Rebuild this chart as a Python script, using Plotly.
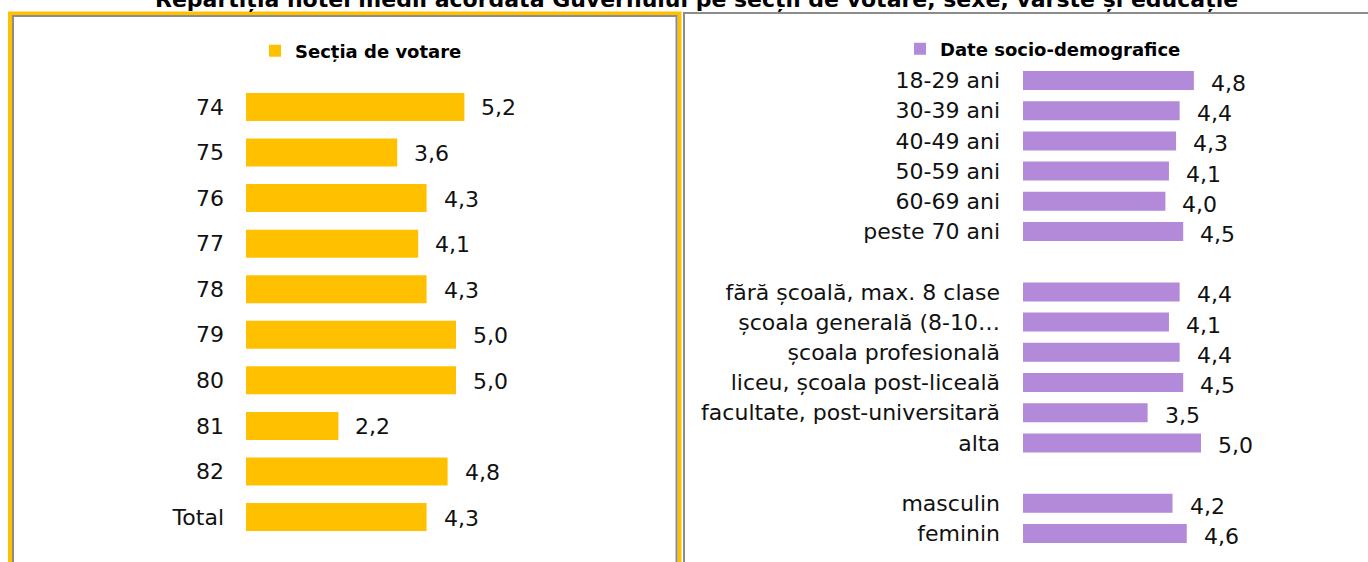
import plotly.graph_objects as go

# ---------------- data ----------------
title_text = "Repartiția notei medii acordată Guvernului pe secții de votare, sexe, vârste și educație"

sectii_labels = ["74", "75", "76", "77", "78", "79", "80", "81", "82", "Total"]
sectii_values = [5.2, 3.6, 4.3, 4.1, 4.3, 5.0, 5.0, 2.2, 4.8, 4.3]

socio_labels = ["18-29 ani", "30-39 ani", "40-49 ani", "50-59 ani", "60-69 ani", "peste 70 ani",
                " ",
                "fără școală, max. 8 clase", "școala generală (8-10…", "școala profesională",
                "liceu, școala post-liceală", "facultate, post-universitară", "alta",
                "  ",
                "masculin", "feminin"]
socio_values = [4.8, 4.4, 4.3, 4.1, 4.0, 4.5,
                None,
                4.4, 4.1, 4.4, 4.5, 3.5, 5.0,
                None,
                4.2, 4.6]

series_left = "Secția de votare"
series_right = "Date socio-demografice"

# ---------------- style ----------------
W, H = 1368, 562
YELLOW = "#FFC000"
PURPLE = "#B389D9"
FONT = "DejaVu Sans"
TXT = "#111111"


def px_x(p):
    return p / W


def px_y(p):
    return 1 - p / H


fig = go.Figure()

fig.add_trace(go.Bar(
    y=sectii_labels, x=sectii_values, orientation="h", name=series_left,
    marker=dict(color=YELLOW, line=dict(width=0)), width=0.615,
    xaxis="x", yaxis="y", legend="legend", hoverinfo="x+y",
))
fig.add_trace(go.Bar(
    y=socio_labels, x=socio_values, orientation="h", name=series_right,
    marker=dict(color=PURPLE, line=dict(width=0)), width=0.63,
    xaxis="x2", yaxis="y2", legend="legend2", hoverinfo="x+y",
))

annotations = []
for i, v in enumerate(sectii_values):
    annotations.append(dict(x=v, y=i, xref="x", yref="y", text=f"{v:.1f}".replace(".", ","),
                            showarrow=False, xanchor="left", yanchor="middle", xshift=15, yshift=-1,
                            font=dict(family=FONT, size=22, color=TXT)))
for i, v in enumerate(socio_values):
    if v is None:
        continue
    annotations.append(dict(x=v, y=i, xref="x2", yref="y2", text=f"{v:.1f}".replace(".", ","),
                            showarrow=False, xanchor="left", yanchor="middle", xshift=15, yshift=-3,
                            font=dict(family=FONT, size=22, color=TXT)))

# chart title: only its lower part shows at the very top of the picture
annotations.append(dict(x=px_x(696), y=px_y(0), xref="paper", yref="paper", text="<b>" + title_text + "</b>",
                        showarrow=False, xanchor="center", yanchor="middle",
                        font=dict(family=FONT, size=22, color="#000000")))

shapes = [
    # left panel: yellow outer frame, gray inner frame
    dict(type="rect", xref="paper", yref="paper", x0=px_x(10), x1=px_x(679.5), y0=px_y(13.5), y1=-0.1,
         line=dict(color=YELLOW, width=4), fillcolor="rgba(0,0,0,0)", layer="below"),
    dict(type="rect", xref="paper", yref="paper", x0=px_x(13), x1=px_x(676.5), y0=px_y(16), y1=-0.1,
         line=dict(color="#8C8C8C", width=2), fillcolor="rgba(0,0,0,0)", layer="below"),
    # right panel gray frame
    dict(type="rect", xref="paper", yref="paper", x0=px_x(684), x1=1.1, y0=px_y(13), y1=-0.1,
         line=dict(color="#8C8C8C", width=2), fillcolor="rgba(0,0,0,0)", layer="below"),
]

fig.update_layout(
    width=W, height=H, autosize=False,
    margin=dict(l=0, r=0, t=0, b=0),
    paper_bgcolor="white", plot_bgcolor="white",
    separators=",.",
    font=dict(family=FONT, size=22, color=TXT),
    showlegend=True,
    xaxis=dict(domain=[px_x(246), px_x(666)], range=[0, 10], showgrid=False, zeroline=False,
               showticklabels=False, showline=False, fixedrange=True),
    yaxis=dict(domain=[px_y(539.8), px_y(84.2)], type="category", categoryorder="array",
               categoryarray=sectii_labels, range=[len(sectii_labels) - 0.5, -0.5],
               showgrid=False, zeroline=False,
               showline=False, ticks="", ticklabelstandoff=21,
               tickfont=dict(family=FONT, size=22, color=TXT), fixedrange=True),
    xaxis2=dict(domain=[px_x(1023), 1], range=[0, (1368 - 1023) / 35.6], showgrid=False, zeroline=False,
                showticklabels=False, showline=False, anchor="y2", fixedrange=True),
    yaxis2=dict(domain=[px_y(548.6), px_y(65.4)], type="category", categoryorder="array",
                categoryarray=socio_labels, range=[len(socio_labels) - 0.5, -0.5],
                showgrid=False, zeroline=False,
                showline=False, ticks="", ticklabelstandoff=22, anchor="x2",
                tickfont=dict(family=FONT, size=22, color=TXT), fixedrange=True),
    legend=dict(x=px_x(255), y=px_y(51), xanchor="left", yanchor="middle", orientation="h",
                bgcolor="rgba(0,0,0,0)", font=dict(family=FONT, size=18, color="#000000", weight="bold")),
    legend2=dict(x=px_x(900), y=px_y(49), xanchor="left", yanchor="middle", orientation="h",
                 bgcolor="rgba(0,0,0,0)", font=dict(family=FONT, size=18, color="#000000", weight="bold")),
    annotations=annotations,
    shapes=shapes,
)

# remove the default 8px page margin so the figure fills the window from its top-left corner
fig.write_html("out.html", config={"displayModeBar": False},
               post_script="document.body.style.margin='0px';document.body.style.overflow='hidden';")
